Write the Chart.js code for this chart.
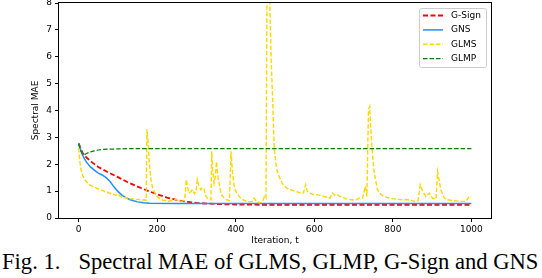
<!DOCTYPE html>
<html>
<head>
<meta charset="utf-8">
<script src="https://cdn.jsdelivr.net/npm/chart.js@4/dist/chart.umd.min.js"></script>
<style>
  html, body { margin: 0; padding: 0; background: #fff; }
  body { width: 542px; height: 278px; position: relative; overflow: hidden; }
  #wrap { position: absolute; left: 0; top: 0; width: 542px; height: 246px; }
  #caption {
    position: absolute; left: 2px; top: 251px;
    font-family: "Liberation Serif", "Times New Roman", serif;
    font-size: 22.6px; line-height: 22.6px; white-space: nowrap; color: #000;
  }
  #caption .gap { display: inline-block; width: 18px; }
</style>
</head>
<body>
<div id="wrap"><canvas id="chart"></canvas></div>
<div id="caption">Fig. 1.<span class="gap"></span>Spectral MAE of GLMS, GLMP, G-Sign and GNS</div>
<script>
// iteration ticks and value ticks
const xTicks = [0, 200, 400, 600, 800, 1000];
const yTicks = [0, 1, 2, 3, 4, 5, 6, 7, 8];

// G-Sign
const gsignT = [0, 5, 10, 20, 35, 50, 75, 100, 125, 150, 175, 200, 225, 250, 275, 300, 350, 400, 500, 600, 800, 1000];
const gsignV = [2.78, 2.6, 2.42, 2.25, 2.06, 1.9, 1.7, 1.52, 1.33, 1.17, 1.02, 0.88, 0.76, 0.67, 0.6, 0.56, 0.52, 0.5, 0.49, 0.49, 0.49, 0.49];

// GNS
const gnsT = [0, 5, 10, 15, 20, 30, 40, 50, 60, 70, 80, 90, 100, 110, 120, 130, 140, 150, 165, 180, 250, 400, 600, 800, 1000];
const gnsV = [2.78, 2.55, 2.35, 2.2, 2.08, 1.9, 1.78, 1.67, 1.6, 1.5, 1.36, 1.16, 0.99, 0.85, 0.76, 0.69, 0.64, 0.6, 0.57, 0.55, 0.54, 0.54, 0.54, 0.54, 0.54];

// GLMS
const glmsT = [0, 3, 7, 11, 15, 20, 27, 35, 44, 52, 61, 70, 78, 87, 95, 100, 103, 111, 120, 128, 137, 145, 152, 160, 168, 172,
  174, 177, 180, 184, 188, 192, 196, 200, 206, 213, 222, 230, 238, 247, 255, 264, 270, 274, 278, 281, 285, 290, 295, 299,
  302, 306, 311, 315, 319, 324, 330, 337, 339, 341, 345, 348, 351, 355, 359, 363, 370, 376, 384, 388, 392, 396, 400, 405,
  412, 418, 425, 435, 442, 447, 451, 460, 468, 473, 477, 480, 486, 490, 494, 498, 502, 506, 510, 514, 518, 523, 531, 537,
  544, 550, 557, 565, 572, 578, 582, 588, 595, 605, 617, 625, 634, 640, 646, 652, 659, 665, 672, 680, 693, 706, 714, 723,
  730, 734, 738, 741, 744, 748, 751, 755, 761, 770, 778, 791, 808, 825, 842, 855, 864, 870, 876, 884, 893, 901, 910, 914,
  918, 922, 931, 939, 956, 973, 986, 994, 999];
const glmsV = [2.6, 2.1, 1.73, 1.55, 1.43, 1.35, 1.24, 1.18, 1.12, 1.07, 1.02, 0.97, 0.93, 0.88, 0.84, 0.9, 0.86, 0.74, 0.76, 0.7, 0.72, 0.67, 0.7, 0.66, 0.68, 0.66,
  3.3, 2.79, 2.05, 1.43, 1.15, 0.99, 0.88, 0.8, 0.73, 0.67, 0.64, 0.62, 0.66, 0.7, 0.64, 0.62, 0.68, 1.43, 1.1, 0.93, 0.98, 1.05, 0.9, 1.0,
  1.43, 1.2, 1.05, 1.12, 1.1, 0.8, 0.72, 0.68, 2.48, 1.8, 1.3, 1.55, 2.1, 1.5, 1.18, 0.88, 0.75, 0.68, 0.65, 2.48, 1.67, 1.18, 1.0, 0.88,
  0.75, 0.68, 0.64, 0.6, 0.62, 0.74, 0.65, 0.56, 0.6, 0.8, 0.74, 9.5, 8.5, 6.0, 4.4, 2.6, 2.05, 1.73, 1.55, 1.43, 1.3, 1.2, 1.1, 1.07,
  1.03, 1.0, 0.97, 0.93, 0.92, 1.24, 1.0, 0.95, 0.88, 0.87, 0.84, 0.8, 0.76, 0.74, 0.93, 0.85, 0.87, 0.8, 0.78, 0.72, 0.68, 0.68, 0.74, 0.74,
  1.18, 0.8, 4.03, 4.15, 3.29, 2.42, 1.9, 1.49, 1.05, 0.87, 0.8, 0.74, 0.7, 0.68, 0.68, 0.62, 0.64, 1.24, 1.0, 0.8, 0.93, 0.74, 0.7, 1.73,
  1.4, 1.05, 0.74, 0.68, 0.64, 0.62, 0.62, 0.8, 0.75];

// GLMP
const glmpT = [0, 5, 10, 15, 20, 30, 40, 50, 60, 75, 100, 125, 150, 1000];
const glmpV = [2.75, 2.5, 2.38, 2.35, 2.4, 2.46, 2.5, 2.53, 2.55, 2.56, 2.57, 2.58, 2.58, 2.58];

const FONT = '"DejaVu Sans", sans-serif';
const FS = 9;

function pts(t, v) {
  return t.map((x, i) => ({ x: x, y: v[i] }));
}

// black frame round the plot area
const frame = {
  id: 'frame',
  afterDatasetsDraw(chart) {
    const { ctx, chartArea: a } = chart;
    ctx.save();
    ctx.strokeStyle = '#000';
    ctx.lineWidth = 1;
    ctx.strokeRect(a.left - 0.5, a.top - 0.5, a.right - a.left + 1, a.bottom - a.top + 1);
    ctx.restore();
  }
};

// matplotlib-style legend box in the upper right corner
const legendBox = {
  id: 'legendBox',
  afterDraw(chart) {
    const { ctx, chartArea } = chart;
    const w = 67, h = 59;
    const x = chartArea.right - 5 - w;
    const y = chartArea.top + 5;
    ctx.save();
    ctx.fillStyle = 'rgba(255,255,255,0.8)';
    ctx.strokeStyle = '#cccccc';
    ctx.lineWidth = 1;
    ctx.beginPath();
    ctx.roundRect(x + 0.5, y + 0.5, w, h, 2);
    ctx.fill();
    ctx.stroke();
    chart.data.datasets.forEach((ds, i) => {
      const ly = y + 7.5 + i * 14.4;
      ctx.strokeStyle = ds.borderColor;
      ctx.lineWidth = ds.borderWidth;
      ctx.setLineDash(ds.borderDash || []);
      ctx.beginPath();
      ctx.moveTo(x + 4, ly);
      ctx.lineTo(x + 24, ly);
      ctx.stroke();
      ctx.setLineDash([]);
      ctx.fillStyle = '#000';
      ctx.font = FS + 'px ' + FONT;
      ctx.textBaseline = 'middle';
      ctx.textAlign = 'left';
      ctx.fillText(ds.label, x + 32, ly);
    });
    ctx.restore();
  }
};

const ctx = document.getElementById('chart').getContext('2d');

new Chart(ctx, {
  type: 'line',
  data: {
    datasets: [
      { label: 'G-Sign', data: pts(gsignT, gsignV), borderColor: '#ff0000', borderWidth: 1.8, borderDash: [5, 2.5], order: 4 },
      { label: 'GNS', data: pts(gnsT, gnsV), borderColor: '#1e90ff', borderWidth: 1.5, order: 3 },
      { label: 'GLMS', data: pts(glmsT, glmsV), borderColor: '#ffd700', borderWidth: 1.4, borderDash: [4.5, 2], order: 2 },
      { label: 'GLMP', data: pts(glmpT, glmpV), borderColor: '#008000', borderWidth: 1.2, borderDash: [4.5, 2], order: 1 }
    ]
  },
  options: {
    responsive: true,
    maintainAspectRatio: false,
    animation: false,
    layout: { padding: { left: 30, right: 51, top: 3, bottom: 0 } },
    elements: { point: { radius: 0 }, line: { tension: 0 } },
    plugins: { legend: { display: false }, tooltip: { enabled: false } },
    scales: {
      x: {
        type: 'linear',
        min: -50,
        max: 1050,
        afterBuildTicks: (s) => { s.ticks = xTicks.map(v => ({ value: v })); },
        afterFit: (s) => { s.height = 28; s.paddingLeft = 0; s.paddingRight = 0; },
        ticks: { color: '#000', font: { family: FONT, size: FS }, padding: 2, maxRotation: 0, callback: (v) => String(v) },
        grid: { drawOnChartArea: false, drawTicks: true, tickLength: 4, color: '#000' },
        border: { display: false },
        title: { display: true, text: 'Iteration, t', color: '#000', font: { family: FONT, size: FS }, padding: 0 }
      },
      y: {
        min: 0,
        max: 8,
        afterBuildTicks: (s) => { s.ticks = yTicks.map(v => ({ value: v })); },
        afterFit: (s) => { s.width = 29; s.paddingTop = 0; s.paddingBottom = 0; },
        ticks: { color: '#000', font: { family: FONT, size: FS }, padding: 3, callback: (v) => String(v) },
        grid: { drawOnChartArea: false, drawTicks: true, tickLength: 4, color: '#000' },
        border: { display: false },
        title: { display: true, text: 'Spectral MAE', color: '#000', font: { family: FONT, size: FS }, padding: 0 }
      }
    }
  },
  plugins: [frame, legendBox]
});
</script>
</body>
</html>
